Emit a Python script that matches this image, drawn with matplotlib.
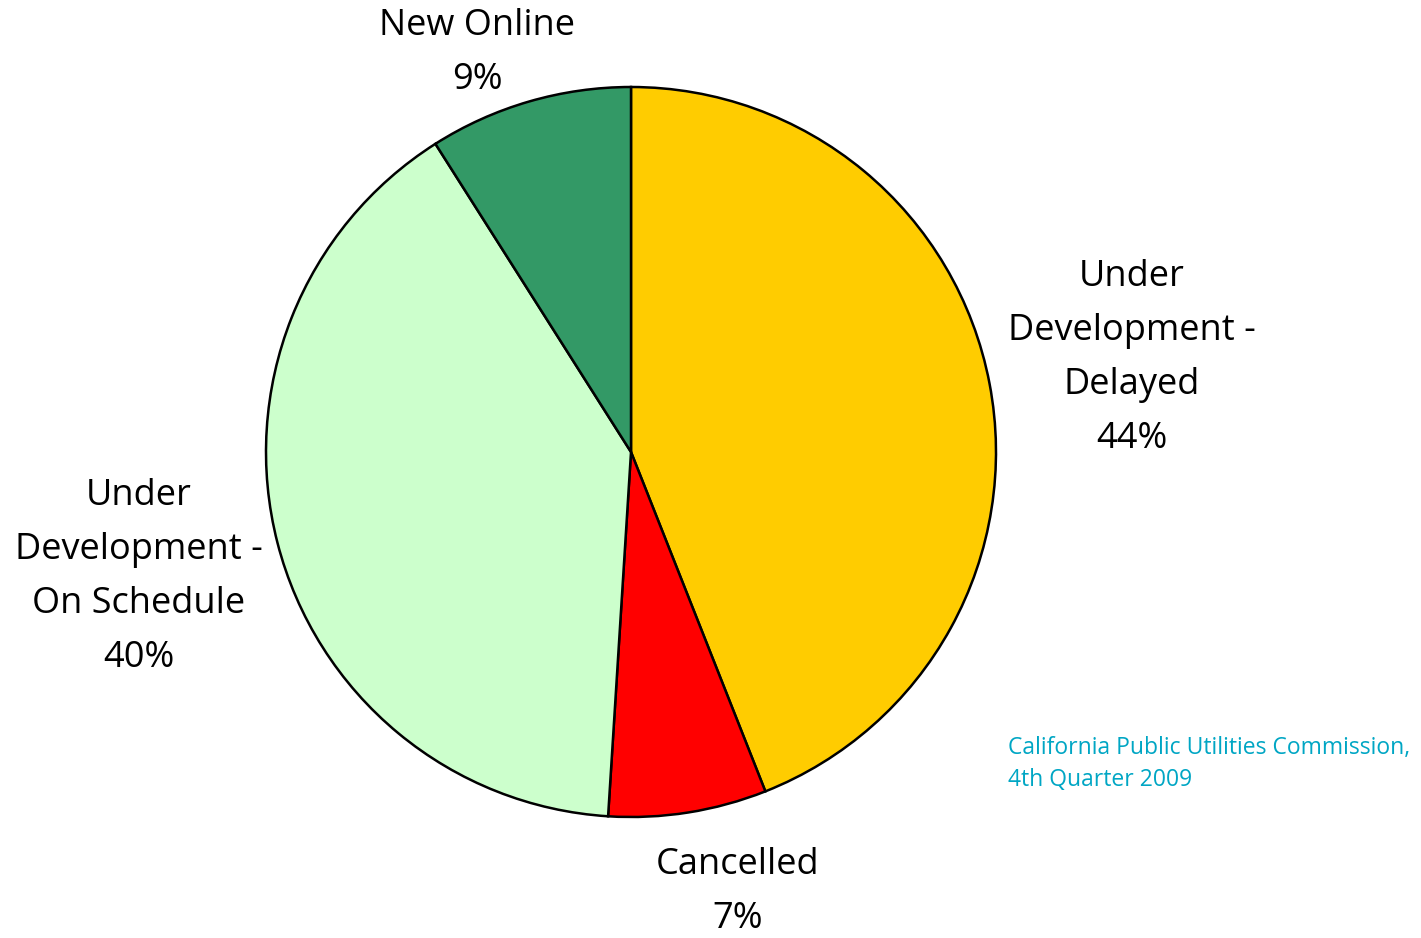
import matplotlib.pyplot as plt

# Project status, CPUC Q4 2009
categories = ["Under\nDevelopment -\nDelayed", "Cancelled",
              "Under\nDevelopment -\nOn Schedule", "New Online"]
shares = [44, 7, 40, 9]
colors = ["#FFCC00", "#FF0000", "#CCFFCC", "#339966"]
source = "California Public Utilities Commission,\n4th Quarter 2009"

W, H = 1421, 938
fig = plt.figure(figsize=(W / 100, H / 100), dpi=100)
ax = fig.add_axes([0, 0, 1, 1])

cx, cy, r = 631, H - 452, 365
ax.pie(shares, colors=colors, startangle=90, counterclock=False,
       center=(cx, cy), radius=r,
       wedgeprops=dict(edgecolor="black", linewidth=1.8))
ax.set_xlim(0, W)
ax.set_ylim(0, H)
ax.set_aspect("equal")
ax.axis("off")

# label anchors (pixel coords, centre of text block)
label_pos = [(1132, 358), (738, 892), (139, 577), (477, 53)]
for name, val, (px, py) in zip(categories, shares, label_pos):
    ax.text(px, H - py, f"{name}\n{val}%", ha="center", va="center",
            fontsize=26, family="Open Sans", linespacing=1.66)

ax.text(1008, H - 764, source, ha="left", va="center", fontsize=16.5,
        family="Open Sans", color="#00A6C4", linespacing=1.45)

fig.savefig("out.png", dpi=100)
